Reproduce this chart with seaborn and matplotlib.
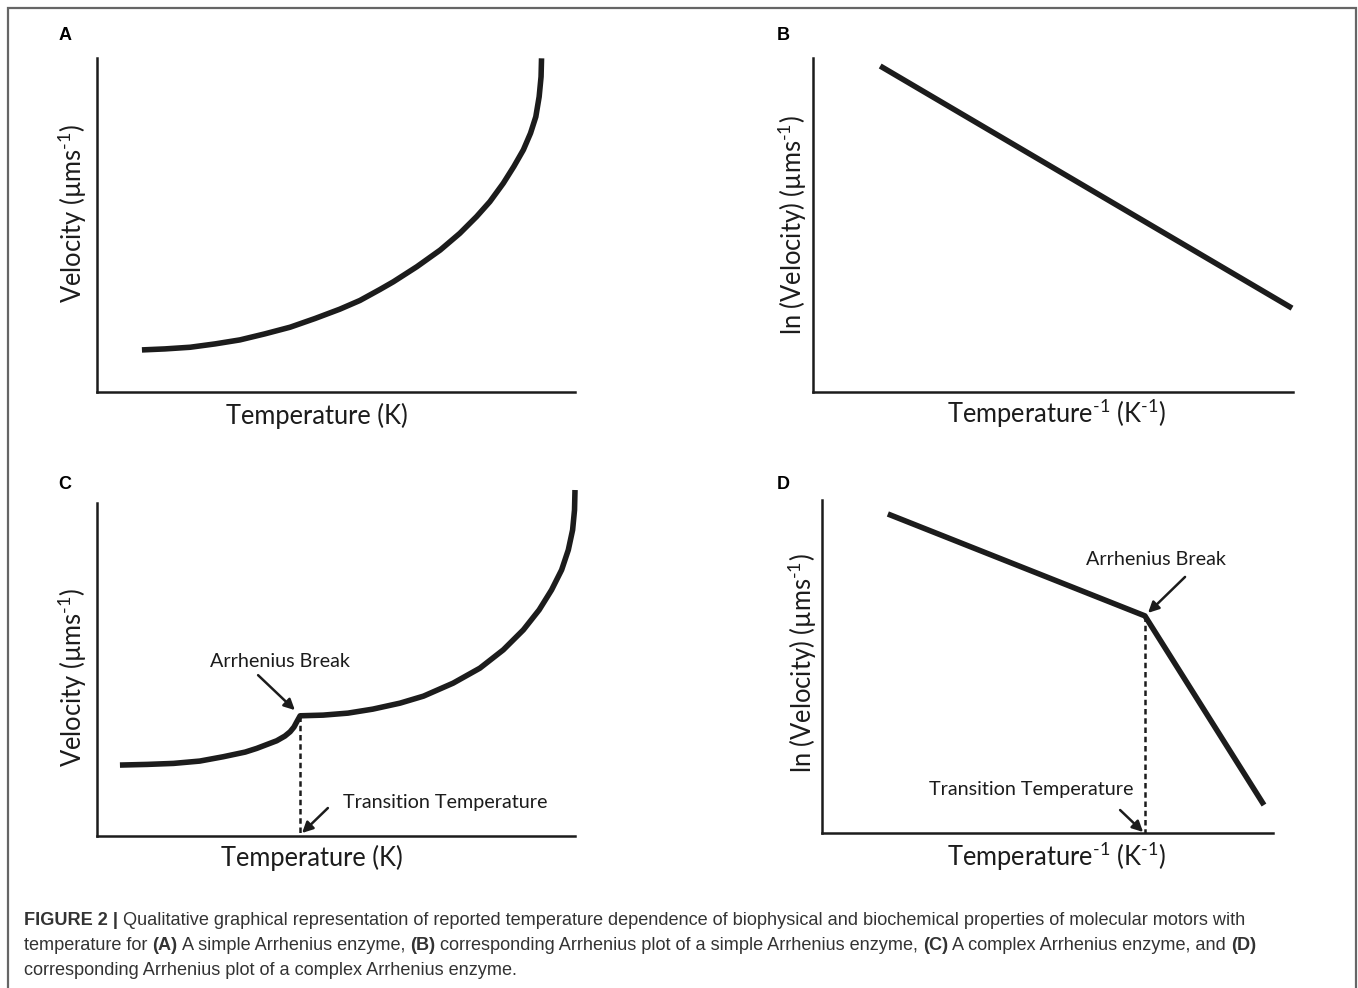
"""Arrhenius behaviour of molecular motors.

Four qualitative panels:
    A  velocity vs temperature (simple enzyme)
    B  Arrhenius plot of A
    C  velocity vs temperature with a break (complex enzyme)
    D  Arrhenius plot of C
"""
# %%
import seaborn as sns
import matplotlib.pyplot as plt
from matplotlib.patches import Rectangle

# %%
# values in axis units (0-100 on both axes)
a_temp = [9.4, 14.2, 19.5, 24.7, 29.9, 35.1, 40.4, 45.6, 50.8, 55.0, 59.2, 62.0, 66.9,
          71.8, 75.9, 79.4, 82.2, 85.0, 87.2, 89.2, 90.7, 91.8, 92.5, 92.9, 93.0]
a_vel = [12.6, 12.9, 13.4, 14.4, 15.6, 17.4, 19.4, 22.0, 24.8, 27.4, 30.7, 33.0, 37.5,
         42.5, 47.5, 52.5, 57.0, 62.5, 67.5, 72.5, 77.5, 82.4, 88.4, 94.4, 99.9]

b_inv_temp = [14.0, 99.8]
b_ln_vel = [97.6, 25.1]

c_temp = [4.8, 10.5, 16.0, 21.5, 26.4, 31.0, 33.4, 37.6, 39.3, 40.4, 41.2, 41.8, 42.5,
          47.3, 52.5, 57.7, 63.4, 68.3, 74.5, 80.1, 85.0, 89.2, 92.5, 95.1, 97.2,
          98.6, 99.5, 99.9, 100.0]
c_vel = [21.3, 21.5, 21.8, 22.5, 23.8, 25.2, 26.3, 28.6, 30.0, 31.3, 32.7, 34.3, 36.1,
         36.3, 36.9, 38.1, 39.9, 42.0, 45.9, 50.4, 55.9, 61.9, 67.9, 73.9, 79.9,
         85.9, 91.9, 97.9, 103.9]
c_break = (42.5, 36.1)

d_inv_temp = [14.6, 71.6, 98.0]
d_ln_vel = [95.8, 65.2, 8.4]
d_break = (71.6, 65.2)

caption_lines = [
    [("FIGURE 2 |", True),
     (" Qualitative graphical representation of reported temperature dependence of "
      "biophysical and biochemical properties of molecular motors with", False)],
    [("temperature for ", False), ("(A)", True), (" A simple Arrhenius enzyme, ", False),
     ("(B)", True), (" corresponding Arrhenius plot of a simple Arrhenius enzyme, ", False),
     ("(C)", True), (" A complex Arrhenius enzyme, and ", False), ("(D)", True)],
    [("corresponding Arrhenius plot of a complex Arrhenius enzyme.", False)],
]

# %%
sns.set_style("white")
plt.rcParams["font.family"] = ["Lato", "DejaVu Sans"]
plt.rcParams["mathtext.fontset"] = "custom"
plt.rcParams["mathtext.rm"] = "Lato"
plt.rcParams["mathtext.default"] = "regular"

W, H = 1358, 988
fig = plt.figure(figsize=(W / 100, H / 100), dpi=100)
INK = "#1c1c1c"
LABEL_SIZE = 18.4
NOTE_SIZE = 14.2


def px_axes(left, top, right, bottom):
    ax = fig.add_axes([left / W, 1 - bottom / H, (right - left) / W, (bottom - top) / H])
    ax.set_xlim(0, 100)
    ax.set_ylim(0, 100)
    ax.set_xticks([])
    ax.set_yticks([])
    sns.despine(ax=ax)
    for side in ["left", "bottom"]:
        ax.spines[side].set_linewidth(1.8)
        ax.spines[side].set_color(INK)
    ax.patch.set_alpha(0)
    return ax


def curve(ax, x, y):
    sns.lineplot(x=x, y=y, ax=ax, color=INK, linewidth=4, sort=False,
                 estimator=None, clip_on=False, solid_capstyle="butt",
                 solid_joinstyle="round")


def labels(ax, xlab, ylab, xpos, ypos):
    # seaborn hides the labels when there are no tick labels, so force them on
    ax.set_xlabel(xlab, fontsize=LABEL_SIZE, color=INK, visible=True)
    ax.set_ylabel(ylab, fontsize=LABEL_SIZE, color=INK, visible=True)
    ax.xaxis.set_label_coords(*xpos)
    ax.yaxis.set_label_coords(*ypos)
    ax.xaxis.label.set_va("center")
    ax.yaxis.label.set_va("center")


def note(ax, text, text_xy, tail, head):
    ax.text(*text_xy, text, fontsize=NOTE_SIZE, color=INK, ha="center", va="center")
    ax.annotate("", xy=head, xytext=tail,
                arrowprops=dict(arrowstyle="-|>", color=INK, lw=1.8,
                                mutation_scale=16, shrinkA=0, shrinkB=0))


def transition(ax, point):
    ax.plot([point[0], point[0]], [point[1], 0], color=INK, lw=1.8,
            linestyle=(0, (2.2, 1.5)), clip_on=False)


# %%
axA = px_axes(97, 58, 575, 392)
axB = px_axes(813, 58, 1293, 392)
axC = px_axes(97, 503, 575, 836)
axD = px_axes(822, 500, 1273, 833)

# short hyphen (U+2010) in the superscripts, like the original artwork
vel_lab = "Velocity (µms$^{\u20101}$)"
ln_lab = "ln (Velocity) (µms$^{\u20101}$)"
t_lab = "Temperature (K)"
inv_lab = "Temperature$^{\u20101}$ (K$^{\u20101}$)"

curve(axA, a_temp, a_vel)
labels(axA, t_lab, vel_lab, (0.46, -0.072), (-0.052, 0.536))

curve(axB, b_inv_temp, b_ln_vel)
labels(axB, inv_lab, ln_lab, (0.508, -0.066), (-0.042, 0.50))

transition(axC, c_break)
curve(axC, c_temp, c_vel)
labels(axC, t_lab, vel_lab, (0.45, -0.066), (-0.052, 0.477))
note(axC, "Arrhenius Break", (38.3, 52.3), (33.7, 48.3), (41.4, 37.8))
note(axC, "Transition Temperature", (72.8, 10.2), (48.3, 8.4), (42.9, 0.9))

transition(axD, d_break)
curve(axD, d_inv_temp, d_ln_vel)
labels(axD, inv_lab, ln_lab, (0.521, -0.072), (-0.044, 0.51))
note(axD, "Arrhenius Break", (74.1, 82.0), (80.5, 76.9), (72.3, 66.1))
note(axD, "Transition Temperature", (46.3, 13.2), (66.1, 6.9), (71.2, 0.3))

# panel letters
for letter, x, y in [("A", 65, 36), ("B", 783, 36), ("C", 65, 484), ("D", 783, 484)]:
    fig.text(x / W, 1 - y / H, letter, family=["Liberation Sans", "DejaVu Sans"],
             fontweight="bold", fontsize=13, ha="center", va="center", color="black")

# %%
# caption, drawn run by run so the bold pieces sit inline
renderer = fig.canvas.get_renderer()
cap_family = ["Liberation Sans", "DejaVu Sans"]
for line, y in zip(caption_lines, [920, 945, 970]):
    x = 24
    for s, bold in line:
        t = fig.text(x / W, 1 - y / H, s, family=cap_family, fontsize=13.1,
                     fontweight="bold" if bold else "normal", color="#333333",
                     ha="left", va="center")
        x += t.get_window_extent(renderer).width

# frame
fig.patches.append(Rectangle((8 / W, -0.01), 1348 / W, 1 - 8 / H + 0.01,
                             transform=fig.transFigure, fill=False,
                             edgecolor="#666666", linewidth=1.6))

plt.savefig("out.png", dpi=100)
